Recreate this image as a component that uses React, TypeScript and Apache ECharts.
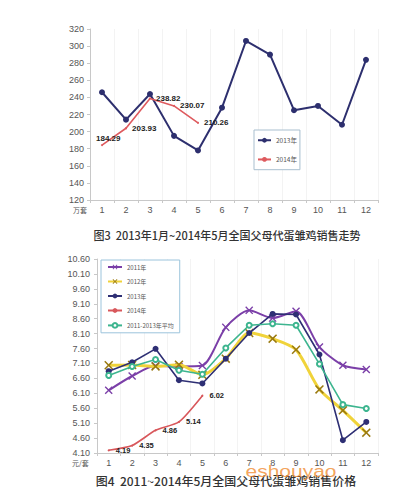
import React, { useEffect, useRef } from "react";
import * as echarts from "echarts";

const months = ["1", "2", "3", "4", "5", "6", "7", "8", "9", "10", "11", "12"];

// Figure 3: sales volume (万套)
const sales2013 = [246, 214, 244, 195, 178, 228, 306, 290, 225, 230, 208, 284];
const sales2014 = [184.29, 203.93, 238.82, 230.07, 210.26];

// Figure 4: price (元/套)
const price2011 = [6.2, 6.68, 7.02, 7.0, 7.03, 8.31, 8.88, 8.62, 8.85, 7.65, 7.04, 6.9];
const price2012 = [7.04, 7.05, 7.0, 7.06, 6.72, 7.26, 8.12, 7.93, 7.56, 6.23, 5.53, 4.78];
const price2013 = [6.84, 7.14, 7.59, 6.54, 6.43, 7.26, 8.12, 8.76, 8.74, 7.4, 4.53, 5.14];
const price2014 = [4.19, 4.35, 4.86, 5.14, 6.02];
const priceAvg = [6.7, 7.0, 7.23, 6.87, 6.74, 7.62, 8.38, 8.43, 8.38, 7.08, 5.72, 5.59];

const title3 = "图3  2013年1月~2014年5月全国父母代蛋雏鸡销售走势";
const title4 = "图4  2011~2014年5月全国父母代蛋雏鸡销售价格";

const FONT = '"Noto Sans CJK SC", "Noto Sans", sans-serif';
const XPATH = "path://M0,1.2L1.2,0L5,3.8L8.8,0L10,1.2L6.2,5L10,8.8L8.8,10L5,6.2L1.2,10L0,8.8L3.8,5Z";

const axisLabel = { color: "#555", fontSize: 9, fontFamily: "Arial, Liberation Sans, sans-serif" };
const axisLine = { show: true, lineStyle: { color: "#c8c8c8", width: 1 } };

function topOption(): any {
  return {
    animation: false,
    backgroundColor: "#fff",
    grid: { left: 90, right: 21, top: 29, height: 171 },
    xAxis: {
      type: "category",
      data: months,
      boundaryGap: true,
      axisLine,
      axisTick: { show: true, length: 3, lineStyle: { color: "#c8c8c8" } },
      axisLabel: { ...axisLabel, margin: 5 },
      splitLine: { show: true, lineStyle: { color: "#f3f3f3" } },
    },
    yAxis: {
      type: "value",
      min: 120,
      max: 320,
      interval: 20,
      axisLine,
      axisTick: { show: true, length: 3, lineStyle: { color: "#c8c8c8" } },
      axisLabel: { ...axisLabel, margin: 6 },
      splitLine: { show: false },
    },
    legend: {
      orient: "vertical",
      left: 254,
      top: 130,
      data: ["2013年", "2014年"],
      backgroundColor: "#fff",
      borderColor: "#a9bfcf",
      borderWidth: 1,
      padding: [7, 3, 7, 3],
      itemWidth: 13,
      itemHeight: 6,
      itemGap: 12.7,
      textStyle: { fontSize: 6.5, color: "#555", fontFamily: FONT },
    },
    series: [
      {
        name: "2013年",
        type: "line",
        data: sales2013,
        symbol: "circle",
        symbolSize: 6,
        lineStyle: { color: "#2d2f6e", width: 2 },
        itemStyle: { color: "#2d2f6e" },
        z: 2,
      },
      {
        name: "2014年",
        type: "line",
        data: sales2014,
        symbol: "circle",
        symbolSize: 2,
        lineStyle: { color: "#de5a5e", width: 1.6 },
        itemStyle: { color: "#de5a5e" },
        z: 3,
        label: {
          show: true,
          position: "right",
          distance: 5,
          fontSize: 8,
          fontWeight: "bold",
          color: "#222",
          fontFamily: "Arial, Liberation Sans, sans-serif",
          formatter: (p: any) => p.value.toFixed(2),
        },
        labelLayout: (p: any) => (p.dataIndex === 0 ? { dx: -12, dy: -7 } : {}),
      },
    ],
    graphic: [
      {
        type: "text",
        left: 73,
        top: 206,
        style: { text: "万套", fontSize: 7, fill: "#555", fontFamily: FONT },
      },
      {
        type: "text",
        x: 227,
        y: 235,
        style: {
          text: title3,
          fontSize: 11,
          fill: "#333",
          fontFamily: FONT,
          fontWeight: 500,
          align: "center",
          verticalAlign: "middle",
        },
      },
    ],
  };
}

function bottomOption(): any {
  return {
    animation: false,
    backgroundColor: "#fff",
    grid: { left: 97, right: 21, top: 9, height: 194 },
    xAxis: {
      type: "category",
      data: months,
      boundaryGap: true,
      axisLine,
      axisTick: { show: true, length: 3, lineStyle: { color: "#c8c8c8" } },
      axisLabel: { ...axisLabel, margin: 5 },
      splitLine: { show: true, lineStyle: { color: "#f3f3f3" } },
    },
    yAxis: {
      type: "value",
      min: 4.1,
      max: 10.6,
      interval: 0.5,
      axisLine,
      axisTick: { show: true, length: 3, lineStyle: { color: "#c8c8c8" } },
      axisLabel: { ...axisLabel, margin: 7, formatter: (v: number) => v.toFixed(2) },
      splitLine: { show: false },
    },
    legend: {
      orient: "vertical",
      left: 101,
      top: 10,
      data: ["2011年", "2012年", "2013年", "2014年", "2011-2013年平均"],
      backgroundColor: "#fff",
      borderColor: "#9cc4dc",
      borderWidth: 1,
      padding: [4, 6, 4, 6],
      itemWidth: 14,
      itemHeight: 6,
      itemGap: 8.5,
      textStyle: { fontSize: 6, color: "#555", fontFamily: FONT },
    },
    series: [
      {
        name: "2011年",
        type: "line",
        data: price2011,
        smooth: 0.25,
        symbol: XPATH,
        symbolSize: 8,
        lineStyle: { color: "#7b3fa8", width: 2 },
        itemStyle: { color: "#7b3fa8" },
        z: 2,
      },
      {
        name: "2012年",
        type: "line",
        data: price2012,
        smooth: 0.25,
        symbol: XPATH,
        symbolSize: 9,
        lineStyle: { color: "#f0d33a", width: 3 },
        itemStyle: { color: "#9a7a10" },
        z: 3,
      },
      {
        name: "2013年",
        type: "line",
        data: price2013,
        symbol: "circle",
        symbolSize: 6,
        lineStyle: { color: "#2e2f74", width: 1.6 },
        itemStyle: { color: "#2e2f74" },
        z: 4,
      },
      {
        name: "2014年",
        type: "line",
        data: price2014,
        smooth: 0.2,
        symbol: "circle",
        symbolSize: 2,
        lineStyle: { color: "#d8575b", width: 1.6 },
        itemStyle: { color: "#d8575b" },
        z: 5,
        label: {
          show: true,
          position: "right",
          distance: 6,
          fontSize: 7.5,
          fontWeight: "bold",
          color: "#222",
          fontFamily: "Arial, Liberation Sans, sans-serif",
          formatter: (p: any) => p.value.toFixed(2),
        },
      },
      {
        name: "2011-2013年平均",
        type: "line",
        data: priceAvg,
        symbol: "emptyCircle",
        symbolSize: 5,
        lineStyle: { color: "#3db58f", width: 1.6 },
        itemStyle: { color: "#3db58f", borderWidth: 1 },
        z: 4,
      },
    ],
    graphic: [
      {
        type: "text",
        left: 72,
        top: 209,
        style: { text: "元/套", fontSize: 7, fill: "#555", fontFamily: FONT },
      },
      {
        type: "text",
        x: 226,
        y: 230,
        z: 10,
        style: {
          text: title4,
          fontSize: 12,
          fill: "#333",
          fontFamily: FONT,
          fontWeight: 500,
          align: "center",
          verticalAlign: "middle",
        },
      },
      {
        type: "text",
        x: 291,
        y: 221,
        scaleY: 0.78,
        z: 20,
        style: {
          text: "eshouyao",
          fontSize: 21,
          fill: "rgba(240,140,50,0.8)",
          fontFamily: "Arial, Liberation Sans, sans-serif",
          align: "center",
          verticalAlign: "middle",
        },
      },
    ],
  };
}

function Chart({ top, height, option }: { top: number; height: number; option: () => any }) {
  const ref = useRef<HTMLDivElement>(null);
  useEffect(() => {
    if (!ref.current) return;
    const chart = echarts.init(ref.current, undefined, { renderer: "svg" });
    chart.setOption(option());
    return () => chart.dispose();
  }, [option]);
  return (
    <div
      ref={ref}
      style={{ position: "absolute", left: 0, top, width: 399, height }}
    />
  );
}

export default function App() {
  return (
    <div style={{ position: "fixed", left: 0, top: 0, width: 399, height: 500, background: "#fff" }}>
      <Chart top={0} height={250} option={topOption} />
      <Chart top={250} height={250} option={bottomOption} />
    </div>
  );
}
